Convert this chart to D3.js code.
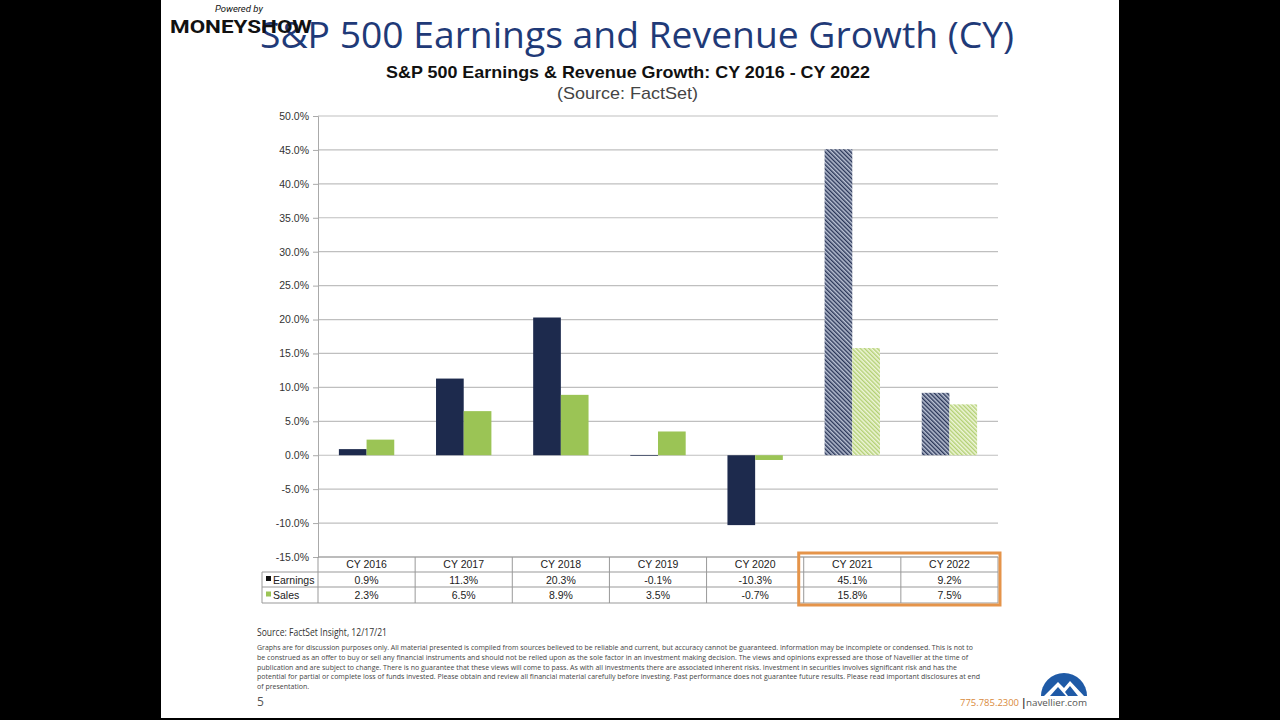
<!DOCTYPE html>
<html><head><meta charset="utf-8">
<script src="https://cdn.jsdelivr.net/npm/d3@7/dist/d3.min.js"></script>
<style>body{margin:0;background:#000;}svg{display:block;}</style>
</head><body>
<script>
const categories = ["CY 2016","CY 2017","CY 2018","CY 2019","CY 2020","CY 2021","CY 2022"];
const earnings = [0.9, 11.3, 20.3, -0.1, -10.3, 45.1, 9.2];
const sales = [2.3, 6.5, 8.9, 3.5, -0.7, 15.8, 7.5];
const earningsLabels = ["0.9%","11.3%","20.3%","-0.1%","-10.3%","45.1%","9.2%"];
const salesLabels = ["2.3%","6.5%","8.9%","3.5%","-0.7%","15.8%","7.5%"];
const estimated = ["CY 2021","CY 2022"];
const yTicks = [50,45,40,35,30,25,20,15,10,5,0,-5,-10,-15];
const seriesNames = ["Earnings","Sales"];
const disclaimer = [
 "Graphs are for discussion purposes only. All material presented is compiled from sources believed to be reliable and current, but accuracy cannot be guaranteed. Information may be incomplete or condensed. This is not to",
 "be construed as an offer to buy or sell any financial instruments and should not be relied upon as the sole factor in an investment making decision. The views and opinions expressed are those of Navellier at the time of",
 "publication and are subject to change. There is no guarantee that these views will come to pass. As with all investments there are associated inherent risks. Investment in securities involves significant risk and has the",
 "potential for partial or complete loss of funds invested. Please obtain and review all financial material carefully before investing. Past performance does not guarantee future results. Please read important disclosures at end",
 "of presentation."
];
const lineEnds = [973, 968, 957, 980, null];

const W=1280,H=720;
const svg = d3.select("body").append("svg").attr("width",W).attr("height",H);
svg.append("rect").attr("width",W).attr("height",H).attr("fill","#000");
svg.append("rect").attr("x",161).attr("y",0).attr("width",958).attr("height",718).attr("fill","#fff");

const NAVY="#1d2a4d", GREEN="#9bc455";
const defs = svg.append("defs");
function hatch(id, bg, fg){
  const p = defs.append("pattern").attr("id",id).attr("patternUnits","userSpaceOnUse")
    .attr("width",3).attr("height",3).attr("patternTransform","rotate(-45)");
  p.append("rect").attr("width",3).attr("height",3).attr("fill",bg);
  p.append("rect").attr("width",1.4).attr("height",3).attr("fill",fg);
}
hatch("hE","#b9c1d3","#2a3658");
hatch("hS","#eef5d9","#b3d074");

// Header titles
svg.append("text").attr("x",260).attr("y",48).attr("textLength",754).attr("lengthAdjust","spacingAndGlyphs")
  .attr("font-family","Open Sans, sans-serif").attr("font-size",36).attr("fill","#1f3a78")
  .text("S&P 500 Earnings and Revenue Growth (CY)");
svg.append("text").attr("x",215).attr("y",12).attr("font-family","Roboto, sans-serif").attr("font-style","italic")
  .attr("font-size",9.5).attr("fill","#111").text("Powered by");
svg.append("text").attr("x",170).attr("y",33).attr("textLength",142).attr("lengthAdjust","spacingAndGlyphs")
  .attr("font-family","Roboto, sans-serif").attr("font-weight","bold").attr("font-size",19).attr("fill","#111").text("MONEYSHOW");

svg.append("text").attr("x",386).attr("y",78).attr("textLength",484).attr("lengthAdjust","spacingAndGlyphs")
  .attr("font-family","Liberation Sans, Arial, sans-serif").attr("font-weight","bold").attr("font-size",17).attr("fill","#111")
  .text("S&P 500 Earnings & Revenue Growth:  CY 2016 - CY 2022");
svg.append("text").attr("x",557).attr("y",99).attr("textLength",141).attr("lengthAdjust","spacingAndGlyphs")
  .attr("font-family","Liberation Sans, Arial, sans-serif").attr("font-size",17).attr("fill","#444")
  .text("(Source: FactSet)");

// Chart
const L=318,R=998,T=116,B=557;
const y = d3.scaleLinear().domain([-15,50]).range([B,T]);
const x = d3.scaleBand().domain(categories).range([L,R]);
const xi = d3.scaleBand().domain(seriesNames).range([x.bandwidth()*0.215, x.bandwidth()*0.785]);

const g = svg.append("g");
g.selectAll(".grid").data(yTicks).join("line").attr("x1",L).attr("x2",R)
  .attr("y1",d=>y(d)).attr("y2",d=>y(d)).attr("stroke","#bfbfbf").attr("stroke-width",1.2);

const yAxis = d3.axisLeft(y).tickValues(yTicks).tickSize(5).tickFormat(d=>d.toFixed(1)+"%");
const ga = svg.append("g").attr("transform",`translate(${L},0)`).call(yAxis);
ga.select(".domain").attr("stroke","#aaa");
ga.selectAll(".tick line").attr("stroke","#aaa");
ga.selectAll(".tick text").attr("font-family","Liberation Sans, Arial, sans-serif").attr("font-size",10.5).attr("fill","#333").attr("x",-9);

const rows = categories.map((c,i)=>({c, vals:[{s:"Earnings",v:earnings[i]},{s:"Sales",v:sales[i]}]}));
const grp = svg.selectAll(".grp").data(rows).join("g").attr("transform",d=>`translate(${x(d.c)},0)`);
grp.selectAll("rect").data(d=>d.vals.map(v=>({...v,c:d.c}))).join("rect")
  .attr("x",d=>xi(d.s)).attr("width",xi.bandwidth())
  .attr("y",d=>y(Math.max(0,d.v))).attr("height",d=>Math.abs(y(d.v)-y(0)))
  .attr("fill",d=>{
    const est = estimated.includes(d.c);
    if(d.s==="Earnings") return est?"url(#hE)":NAVY;
    return est?"url(#hS)":GREEN;
  });

// Table
const rowY=[557,572,587,603];
const tg = svg.append("g").attr("stroke","#999").attr("stroke-width",1);
tg.append("line").attr("x1",L).attr("x2",R).attr("y1",rowY[0]).attr("y2",rowY[0]);
tg.append("line").attr("x1",262).attr("x2",R).attr("y1",rowY[1]).attr("y2",rowY[1]);
tg.append("line").attr("x1",262).attr("x2",R).attr("y1",rowY[2]).attr("y2",rowY[2]);
tg.append("line").attr("x1",262).attr("x2",R).attr("y1",rowY[3]).attr("y2",rowY[3]);
tg.append("line").attr("x1",262).attr("x2",262).attr("y1",rowY[1]).attr("y2",rowY[3]);
categories.forEach(c=>{
  tg.append("line").attr("x1",x(c)).attr("x2",x(c)).attr("y1",rowY[0]).attr("y2",rowY[3]);
});
tg.append("line").attr("x1",R).attr("x2",R).attr("y1",rowY[0]).attr("y2",rowY[3]);

const tf = {"font-family":"Liberation Sans, Arial, sans-serif","font-size":10.5,"fill":"#222"};
function tt(xx,yy,s,anchor){const t=svg.append("text").attr("x",xx).attr("y",yy).attr("text-anchor",anchor||"middle").text(s);
  Object.entries(tf).forEach(([k,v])=>t.attr(k,v));return t;}
categories.forEach((c,i)=>{
  const cx = x(c)+x.bandwidth()/2;
  tt(cx,568,c);
  tt(cx,583.5,earningsLabels[i]);
  tt(cx,599,salesLabels[i]);
});
svg.append("rect").attr("x",266).attr("y",576).attr("width",5).attr("height",5).attr("fill","#111");
svg.append("rect").attr("x",266).attr("y",591.5).attr("width",5).attr("height",5).attr("fill",GREEN);
tt(273,583.5,"Earnings","start");
tt(273,599,"Sales","start");

svg.append("rect").attr("x",x("CY 2021")-5).attr("y",553).attr("width",R+2-x("CY 2021")+5).attr("height",52)
  .attr("fill","none").attr("stroke","#e5944a").attr("stroke-width",3);

// Footer
svg.append("text").attr("x",257).attr("y",636).attr("font-family","Open Sans, sans-serif").attr("font-size",10)
  .attr("fill","#333").attr("textLength",130).attr("lengthAdjust","spacingAndGlyphs").text("Source: FactSet Insight, 12/17/21");
disclaimer.forEach((s,i)=>{
  const t = svg.append("text").attr("x",257).attr("y",650+i*9.8).attr("font-family","Open Sans, sans-serif")
    .attr("font-size",7).attr("fill","#444").text(s);
  if(lineEnds[i]) t.attr("textLength",lineEnds[i]-257).attr("lengthAdjust","spacingAndGlyphs");
});
svg.append("text").attr("x",257).attr("y",706).attr("font-family","Open Sans, sans-serif").attr("font-size",12).attr("fill","#555").text("5");
svg.append("text").attr("x",960).attr("y",706).attr("font-family","Open Sans, sans-serif").attr("font-size",9.5).attr("fill","#d98a3c")
  .attr("textLength",59).attr("lengthAdjust","spacingAndGlyphs").text("775.785.2300");
svg.append("text").attr("x",1021).attr("y",706).attr("font-family","Open Sans, sans-serif").attr("font-size",10).attr("font-weight","bold").attr("fill","#333").text("|");
svg.append("text").attr("x",1026).attr("y",706).attr("font-family","Open Sans, sans-serif").attr("font-size",9.5).attr("fill","#555")
  .attr("textLength",61).attr("lengthAdjust","spacingAndGlyphs").text("navellier.com");
// logo
const lg = svg.append("g").attr("transform","translate(1064,696)");
lg.append("path").attr("d",d3.arc()({innerRadius:0,outerRadius:23,startAngle:-Math.PI/2,endAngle:Math.PI/2})).attr("fill","#1f5aa6");
lg.append("path").attr("d","M-20,0 L-6,-14 L0,-8 L6,-15 L20,0 L14,0 L6,-10 L1,-4 L4,0 Z").attr("fill","#fff");
lg.append("path").attr("d","M-14,0 L-6,-9 L2,0 Z").attr("fill","#1f5aa6");
</script>
</body></html>
